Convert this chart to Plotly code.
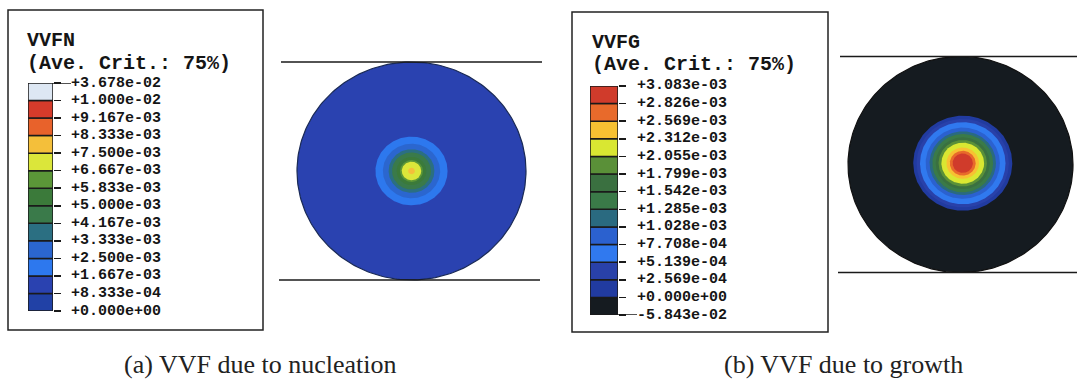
import numpy as np
import plotly.graph_objects as go

W, H = 1077, 381

# ---------------- data ----------------
labels_a = ["+3.678e-02", "+1.000e-02", "+9.167e-03", "+8.333e-03", "+7.500e-03",
            "+6.667e-03", "+5.833e-03", "+5.000e-03", "+4.167e-03", "+3.333e-03",
            "+2.500e-03", "+1.667e-03", "+8.333e-04", "+0.000e+00"]
labels_b = ["+3.083e-03", "+2.826e-03", "+2.569e-03", "+2.312e-03", "+2.055e-03",
            "+1.799e-03", "+1.542e-03", "+1.285e-03", "+1.028e-03", "+7.708e-04",
            "+5.139e-04", "+2.569e-04", "+0.000e+00", "-5.843e-02"]
# band colours, bottom band first
bands_a = ["#2141a6", "#2a42b0", "#2d78ee", "#2b66cf", "#2b6f82", "#3a7a4a",
           "#3b7a3a", "#5b9638", "#dbe63a", "#f4bf3a", "#e8622b", "#d53b2b", "#dde7f3"]
bands_b = ["#151b20", "#213ba0", "#2941a9", "#3079ef", "#2b61cf", "#2a6a80",
           "#3a7a48", "#3a7040", "#5a9038", "#d9e732", "#f7c132", "#e86a2b", "#d03b2b"]
title_a, title_b = "VVFN", "VVFG"
subtitle = "(Ave. Crit.: 75%)"
caption_a, caption_b = "(a) VVF due to nucleation", "(b) VVF due to growth"

# contour rings of each disk (radius relative to disk radius, band index)
ring_r_a = [1.00, 0.315, 0.25, 0.20, 0.17, 0.13, 0.10, 0.085, 0.03]
ring_band_a = [1, 2, 3, 4, 5, 6, 7, 8, 9]
ring_r_b = [1.00, 0.44, 0.41, 0.38, 0.33, 0.295, 0.27, 0.24, 0.215, 0.19, 0.145, 0.115, 0.09]
ring_band_b = [0, 1, 2, 3, 4, 5, 6, 7, 8, 9, 10, 11, 12]
ring_center_b = (0.02, 0.012)

# ---------------- layout helpers ----------------
def px(p):
    return p / W

def py(p):
    return 1 - p / H

fig = go.Figure()
ann = []
shapes = []
LABEL_FONT = dict(family="Liberation Mono", size=15, color="#151515", weight="bold")

def colorbar(ax_id, x0, x1, y0, y1, colors, labels, label_x, long_tick):
    n = len(colors)
    fig.add_trace(go.Bar(x=[0] * n, y=[1] * n, base=list(range(n)),
                         marker=dict(color=colors, line=dict(color="#1a1a1a", width=1.5)),
                         width=1, xaxis="x%d" % ax_id, yaxis="y%d" % ax_id,
                         showlegend=False, hoverinfo="skip"))
    fig.update_layout(**{
        "xaxis%d" % ax_id: dict(domain=[px(x0), px(x1)], range=[-0.5, 0.5], visible=False,
                                fixedrange=True),
        "yaxis%d" % ax_id: dict(domain=[py(y1), py(y0)], range=[0, n], anchor="x%d" % ax_id,
                                side="right", showgrid=False, zeroline=False, showline=False,
                                ticks="outside", ticklen=7, tickwidth=1.5, tickcolor="#1a1a1a",
                                tickvals=list(range(n + 1)), showticklabels=False,
                                fixedrange=True),
    })
    for i, lab in enumerate(labels):
        ann.append(dict(x=px(label_x), y=n - i, xref="paper", yref="y%d" % ax_id,
                        text=lab, showarrow=False, xanchor="left", yanchor="middle",
                        font=LABEL_FONT))
    yv = n if long_tick == "top" else 0
    shapes.append(dict(type="line", xref="paper", yref="y%d" % ax_id,
                       x0=px(x1), x1=px(label_x + 2), y0=yv, y1=yv,
                       line=dict(color="#1a1a1a", width=1.5)))

def disk(ax_id, cx, cy, rx, ry, dom_x, dom_y, radii, band_idx, colors, center, line_x, outline):
    t = np.linspace(0, 2 * np.pi, 241)
    for r, b in zip(radii, band_idx):
        ox, oy = (0, 0) if r >= 1 else center
        fig.add_trace(go.Scatter(x=ox + r * np.cos(t), y=oy + r * np.sin(t), mode="lines",
                                 fill="toself", fillcolor=colors[b],
                                 line=dict(color=outline if r >= 1 else colors[b],
                                           width=1.2 if r >= 1 else 0),
                                 xaxis="x%d" % ax_id, yaxis="y%d" % ax_id,
                                 showlegend=False, hoverinfo="skip"))
    fig.update_layout(**{
        "xaxis%d" % ax_id: dict(domain=[px(dom_x[0]), px(dom_x[1])],
                                range=[(dom_x[0] - cx) / rx, (dom_x[1] - cx) / rx],
                                visible=False, fixedrange=True),
        "yaxis%d" % ax_id: dict(domain=[py(dom_y[1]), py(dom_y[0])],
                                range=[(cy - dom_y[1]) / ry, (cy - dom_y[0]) / ry],
                                anchor="x%d" % ax_id, visible=False, fixedrange=True),
    })
    for yv, (lx0, lx1) in zip([1, -1], line_x):
        shapes.append(dict(type="line", xref="paper", yref="y%d" % ax_id,
                           x0=px(lx0), x1=px(lx1), y0=yv, y1=yv,
                           line=dict(color="#1a1a1a", width=1.5)))

# legend boxes
shapes.append(dict(type="rect", xref="paper", yref="paper", x0=px(8), x1=px(263),
                   y0=py(330), y1=py(10), line=dict(color="#222", width=1.5)))
shapes.append(dict(type="rect", xref="paper", yref="paper", x0=px(572), x1=px(828),
                   y0=py(332), y1=py(12), line=dict(color="#222", width=1.5)))

colorbar(1, 28, 53, 83, 311, bands_a, labels_a, 69, "top")
colorbar(2, 590, 618, 86, 315, bands_b, labels_b, 635, "bottom")

disk(3, 411.5, 171, 114.5, 109, (270, 560), (40, 300), ring_r_a, ring_band_a, bands_a,
     (0, 0), [(281, 542), (279, 540)], "#1a2a55")
disk(4, 960.5, 164.5, 112.5, 108, (830, 1077), (40, 300), ring_r_b, ring_band_b, bands_b,
     ring_center_b, [(840, 1077), (838, 1077)], "#111")

mono = dict(family="Liberation Mono", size=20, color="#151515", weight="bold")
for x, y, txt in [(25, 40, title_a), (25, 63, subtitle), (590, 43, title_b), (590, 64, subtitle)]:
    ann.append(dict(x=px(x), y=py(y), xref="paper", yref="paper", text=txt, showarrow=False,
                    xanchor="left", yanchor="middle", font=mono))

serif = dict(family="Liberation Serif", size=26, color="#222")
for x, txt in [(260, caption_a), (843, caption_b)]:
    ann.append(dict(x=px(x), y=py(364), xref="paper", yref="paper", text=txt, showarrow=False,
                    xanchor="center", yanchor="middle", font=serif))

fig.update_layout(width=W, height=H, autosize=False, margin=dict(l=0, r=0, t=0, b=0),
                  paper_bgcolor="white", plot_bgcolor="rgba(0,0,0,0)",
                  annotations=ann, shapes=shapes, showlegend=False)

fig.write_html("out.html", config={"displayModeBar": False, "staticPlot": True},
               post_script="document.body.style.margin='0';document.body.style.padding='0';"
                           "document.body.style.overflow='hidden';")
